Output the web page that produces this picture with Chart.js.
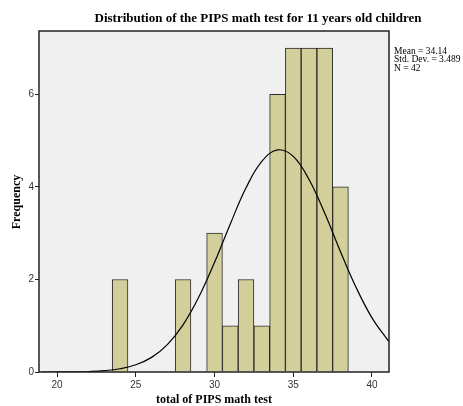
<!DOCTYPE html>
<html>
<head>
<meta charset="utf-8">
<script src="https://cdn.jsdelivr.net/npm/chart.js@4"></script>
<style>
  html, body { margin: 0; padding: 0; background: #fff; }
  #wrap { width: 463px; height: 406px; }
</style>
</head>
<body>
<div id="wrap"><canvas id="hist"></canvas></div>
<script>
// histogram bins (bin centres) and counts
const binCentres = [24, 28, 30, 31, 32, 33, 34, 35, 36, 37, 38];
const binCounts  = [2, 2, 3, 1, 2, 1, 6, 7, 7, 7, 4];

// normal curve
const curveX = [19, 20, 21, 22, 23, 24, 25, 26, 27, 28, 29, 30, 31, 32, 33, 34, 35, 36, 37, 38, 39, 40, 41, 41.08];
const curveY = [0.0, 0.001, 0.004, 0.011, 0.029, 0.071, 0.156, 0.316, 0.593, 1.02, 1.62, 2.37, 3.20, 3.98, 4.55, 4.80, 4.66, 4.16, 3.43, 2.60, 1.82, 1.17, 0.69, 0.66];

const xTicks = [20, 25, 30, 35, 40];
const yTicks = [0, 2, 4, 6];
const statLines = ['Mean = 34.14', 'Std. Dev. = 3.489', 'N = 42'];

const chartTitle = 'Distribution of the PIPS math test for 11 years old children';
const xTitle = 'total of PIPS math test';
const yTitle = 'Frequency';

const decor = {
  id: 'decor',
  beforeDraw(chart) {
    const a = chart.chartArea, c = chart.ctx;
    c.save();
    c.fillStyle = '#f0f0f0';
    c.fillRect(a.left, a.top, a.right - a.left, a.bottom - a.top);
    c.restore();
  },
  afterDraw(chart) {
    const a = chart.chartArea, c = chart.ctx;
    c.save();
    c.strokeStyle = '#222';
    c.lineWidth = 1.5;
    c.strokeRect(a.left, a.top, a.right - a.left, a.bottom - a.top);

    c.fillStyle = '#000';
    c.font = 'bold 13px "Liberation Serif"';
    c.textAlign = 'center';
    c.textBaseline = 'middle';
    c.fillText(chartTitle, 258, 19);

    c.font = 'bold 12px "Liberation Serif"';
    c.fillText(xTitle, 214, 400);

    c.save();
    c.translate(17, 202);
    c.rotate(-Math.PI / 2);
    c.fillText(yTitle, 0, 0);
    c.restore();

    c.font = '9.5px "Liberation Serif"';
    c.textAlign = 'left';
    statLines.forEach((t, i) => c.fillText(t, 394, 51 + i * 8.5));
    c.restore();
  }
};

new Chart(document.getElementById('hist'), {
  type: 'bar',
  data: {
    datasets: [{
      type: 'line',
      data: curveX.map((x, i) => ({ x: x, y: curveY[i] })),
      borderColor: '#000',
      borderWidth: 1.2,
      pointRadius: 0,
      tension: 0.4,
      fill: false,
      order: 0
    }, {
      data: binCentres.map((x, i) => ({ x: x, y: binCounts[i] })),
      backgroundColor: '#d3cf9a',
      borderColor: '#2a2a2a',
      borderWidth: 1,
      barPercentage: 1,
      categoryPercentage: 1,
      order: 1
    }]
  },
  options: {
    responsive: true,
    maintainAspectRatio: false,
    animation: false,
    layout: { padding: { top: 31, right: 74, left: 0, bottom: 0 } },
    plugins: { legend: { display: false }, tooltip: { enabled: false } },
    scales: {
      x: {
        type: 'linear',
        offset: false,
        min: 18.85,
        max: 41.08,
        afterBuildTicks: s => { s.ticks = xTicks.map(v => ({ value: v })); },
        afterFit: s => { s.height = 34; },
        grid: { offset: false, drawOnChartArea: false, drawTicks: true, tickLength: 5, color: '#222' },
        border: { display: false },
        ticks: { color: '#333', font: { family: 'Liberation Sans', size: 10 }, padding: 2, maxRotation: 0 }
      },
      y: {
        min: 0,
        max: 7.37,
        afterBuildTicks: s => { s.ticks = yTicks.map(v => ({ value: v })); },
        afterFit: s => { s.width = 39; },
        grid: { drawOnChartArea: false, drawTicks: true, tickLength: 4, color: '#222' },
        border: { display: false },
        ticks: { color: '#333', font: { family: 'Liberation Sans', size: 10 }, padding: 1 }
      }
    }
  },
  plugins: [decor]
});
</script>
</body>
</html>
